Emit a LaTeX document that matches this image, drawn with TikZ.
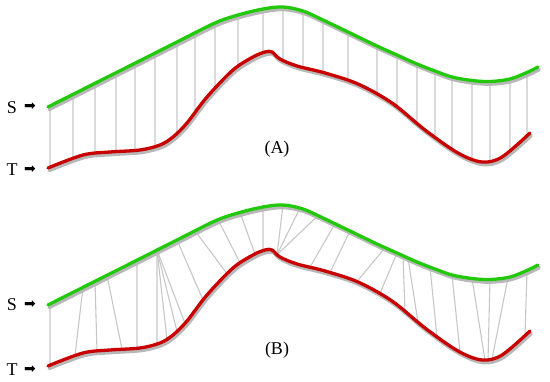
\documentclass[tikz,border=0pt]{standalone}
\usepackage{fontspec}
\setmainfont{Liberation Serif}
\newfontfamily\symfont{DejaVu Sans}
\usetikzlibrary{intersections}
\definecolor{sgreen}{RGB}{34,200,10}
\definecolor{tred}{RGB}{200,0,0}
\begin{document}
\begin{tikzpicture}[x=1pt,y=-1pt,
  conn/.style={draw=black!22, line width=1.1pt},
  sh/.style={draw=black!28, line width=3.6pt, line cap=round},
  gline/.style={draw=sgreen, line width=3.3pt, line cap=round},
  rline/.style={draw=tred, line width=3.3pt, line cap=round},
  greenpath/.style={insert path={plot[smooth,tension=0.55] coordinates {(48,107) (95,83.3) (135,63.2) (177,42) (215,23) (238,15) (263,9) (283,7) (303,11) (323,20) (348,32) (377,46) (397,55) (417,64) (435,71) (452,77) (472,80.5) (490,81.5) (510,79) (528,72) (538,67)}}},
  redpath/.style={insert path={plot[smooth,tension=0.55] coordinates {(48,168) (83,155) (110,152) (140,150) (160,145) (173,137) (187,123) (207,97) (233,70) (253,57) (265,52) (272,52) (280,59) (297,66) (325,73) (358,84) (392,103) (425,130) (458,153) (482,162) (502,157) (530,133)}}},
  lab/.style={font=\fontsize{18}{18}\selectfont, inner sep=0pt},
  arr/.style={font=\symfont\fontsize{14}{14}\selectfont, inner sep=0pt}
]
\useasboundingbox (0,0) rectangle (550,382);

% ---------- Panel A ----------
\path[name path=gA, greenpath];
\path[name path=rA, redpath];
\foreach \x [count=\i] in {50,73,95,116,135,155,177,195,215,238,263,283,303,323,348,377,397,417,435,452,472,490,510,527} {
  \path[name path=vA] (\x,-20) -- (\x,400);
  \path[name intersections={of=gA and vA, by={ga\i}}];
  \path[name intersections={of=rA and vA, by={ra\i}}];
  \draw[conn] (ga\i) -- (ra\i);
}
\draw[sh, shift={(1.2,2.5)}, greenpath];
\draw[sh, shift={(1.2,2.5)}, redpath];
\draw[gline, greenpath];
\draw[rline, redpath];
\node[lab] (SA) at (12,108) {S};
\node[arr] (SAa) at (30,107) {➡};
\node[lab] (TA) at (12,170) {T};
\node[arr] (TAa) at (30,170) {➡};
\node[lab] (LA) at (277,149) {(A)};

% ---------- Panel B ----------
\begin{scope}[shift={(0,198)}]
\path[name path=gB, greenpath];
\path[name path=rB, redpath];
\foreach \gx/\rx [count=\i] in {50/50, 83/75, 95/97, 107/122, 137/137, 157/157, 157/167, 157/177, 157/185, 177/203, 195/227, 218/240, 240/255, 263/263, 283/277, 300/277, 318/277, 335/310, 350/330, 385/357, 397/380, 403/405, 408/418, 430/437, 452/460, 472/485, 490/488, 508/492, 527/525} {
  \path[name path=vg] (\gx,-20) -- (\gx,400);
  \path[name path=vr] (\rx,-20) -- (\rx,400);
  \path[name intersections={of=gB and vg, by={gb\i}}];
  \path[name intersections={of=rB and vr, by={rb\i}}];
  \draw[conn] (gb\i) -- (rb\i);
}
\draw[sh, shift={(1.2,2.5)}, greenpath];
\draw[sh, shift={(1.2,2.5)}, redpath];
\draw[gline, greenpath];
\draw[rline, redpath];
\end{scope}
\node[lab] (SB) at (12,305) {S};
\node[arr] (SBa) at (30,305) {➡};
\node[lab] (TB) at (12,370) {T};
\node[arr] (TBa) at (30,370) {➡};
\node[lab] (LB) at (277,350) {(B)};
\end{tikzpicture}
\end{document}
